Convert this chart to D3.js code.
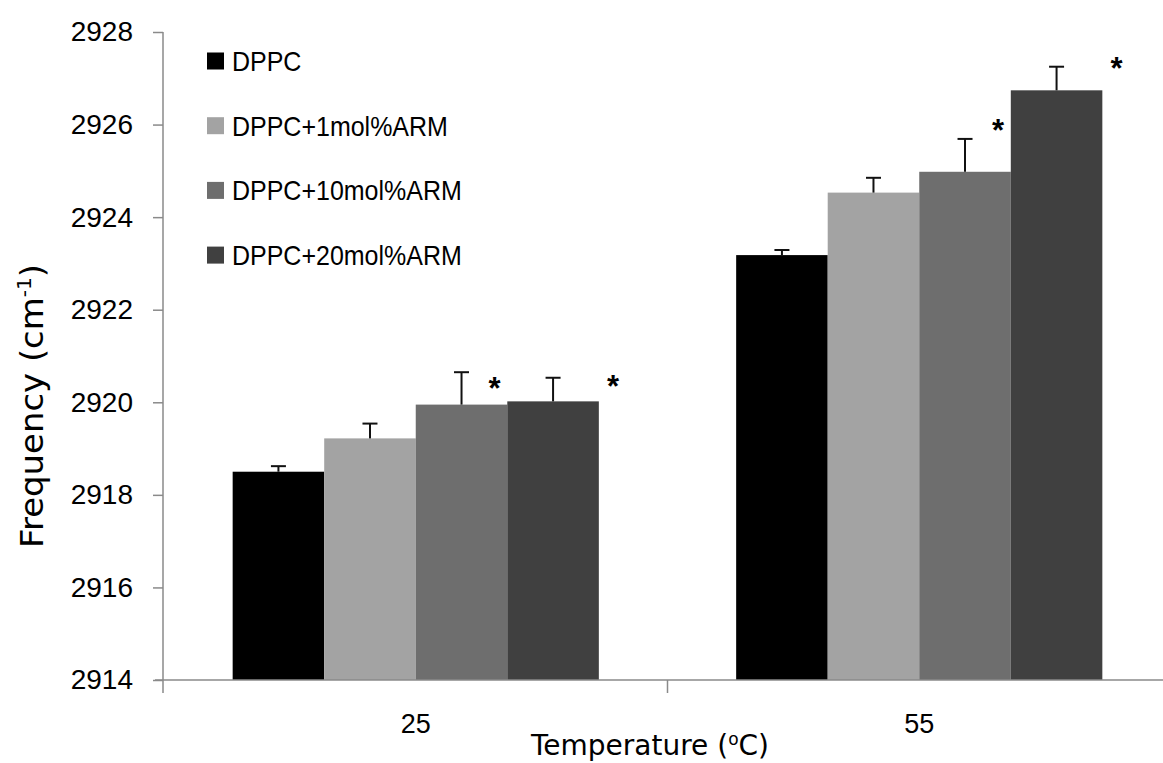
<!DOCTYPE html>
<html>
<head>
  <meta charset="utf-8">
  <title>Frequency vs Temperature</title>
  <script src="https://cdn.jsdelivr.net/npm/d3@7"></script>
  <style>
    body { margin: 0; background: #fff; }
    text { font-family: "Liberation Sans", Arial, sans-serif; fill: #000; }
  </style>
</head>
<body>
  <div id="chart"></div>

  <script>
    // data
    const temps = ["25", "55"]
    const series = ["DPPC", "DPPC+1mol%ARM", "DPPC+10mol%ARM", "DPPC+20mol%ARM"]
    const means25 = [2918.50, 2919.22, 2919.95, 2920.02]
    const means55 = [2923.18, 2924.53, 2924.98, 2926.74]
    const errs25 = [0.12, 0.32, 0.70, 0.51]
    const errs55 = [0.11, 0.32, 0.71, 0.51]
    // significance marks: [temperature, series index, height in cm-1]
    const stars = [["25", 2, 2920.44], ["25", 3, 2920.48], ["55", 2, 2926.01], ["55", 3, 2927.35]]
    const yTicks = [2914, 2916, 2918, 2920, 2922, 2924, 2926, 2928]

    const colors = ["#000000", "#a3a3a3", "#6e6e6e", "#404040"]
    const axisColor = "#8a8a8a"

    const width = 1163
    const height = 763

    const svg = d3.select("#chart")
      .append("svg")
      .attr("width", width)
      .attr("height", height)

    const y = d3.scaleLinear().domain([2914, 2928]).range([680, 32])

    const x0 = d3.scaleBand().domain(temps).range([164, 1171])
    const x1 = d3.scaleBand().domain(d3.range(series.length))
      .range([0, x0.bandwidth()])
      .paddingOuter(0.75)

    const rows = []
    temps.forEach((t, ti) => {
      const m = ti == 0 ? means25 : means55
      const e = ti == 0 ? errs25 : errs55
      series.forEach((s, i) => {
        rows.push({ temp: t, i: i, mean: m[i], err: e[i] })
      })
    })

    // bars
    svg.append("g")
      .selectAll("rect")
      .data(rows)
      .enter()
      .append("rect")
      .attr("x", d => x0(d.temp) + x1(d.i))
      .attr("y", d => y(d.mean))
      .attr("width", x1.bandwidth())
      .attr("height", d => y(2914) - y(d.mean))
      .attr("fill", d => colors[d.i])

    // upper error bars
    const eb = svg.append("g")
      .attr("stroke", "#111")
      .attr("stroke-width", 2)
      .selectAll("g")
      .data(rows)
      .enter()
      .append("g")
      .attr("transform", d => `translate(${x0(d.temp) + x1(d.i) + x1.bandwidth() / 2},0)`)
    eb.append("line")
      .attr("y1", d => y(d.mean))
      .attr("y2", d => y(d.mean + d.err))
    eb.append("line")
      .attr("x1", -7.5).attr("x2", 7.5)
      .attr("y1", d => y(d.mean + d.err))
      .attr("y2", d => y(d.mean + d.err))

    // asterisks
    const starDx = [0, 0, 33, 60]
    svg.append("g")
      .selectAll("text")
      .data(stars)
      .enter()
      .append("text")
      .attr("x", d => x0(d[0]) + x1(d[1]) + x1.bandwidth() / 2 + starDx[d[1]])
      .attr("y", d => y(d[2]) + 17)
      .attr("text-anchor", "middle")
      .style("font-size", "31px")
      .style("font-weight", "bold")
      .text("*")

    // y axis
    const yAxis = svg.append("g")
      .attr("transform", "translate(163,0)")
      .call(d3.axisLeft(y).tickValues(yTicks).tickFormat(d3.format("d")).tickSize(10).tickPadding(20))
    yAxis.select(".domain").remove()
    yAxis.selectAll(".tick line").attr("stroke", axisColor).attr("stroke-width", 1.5)
    yAxis.selectAll(".tick text")
      .style("font-size", "28px")
      .style("font-family", "'Liberation Sans', Arial, sans-serif")
      .attr("fill", "#111")
    yAxis.append("line")
      .attr("y1", y(2928)).attr("y2", 693)
      .attr("stroke", axisColor).attr("stroke-width", 1.5)

    // x axis
    svg.append("line")
      .attr("x1", 155).attr("x2", width)
      .attr("y1", y(2914)).attr("y2", y(2914))
      .attr("stroke", axisColor).attr("stroke-width", 1.5)
    svg.append("g")
      .selectAll("line")
      .data(temps.slice(1))
      .enter()
      .append("line")
      .attr("x1", d => x0(d)).attr("x2", d => x0(d))
      .attr("y1", y(2914)).attr("y2", 693)
      .attr("stroke", axisColor).attr("stroke-width", 1.5)
    svg.append("g")
      .selectAll("text")
      .data(temps)
      .enter()
      .append("text")
      .attr("x", d => x0(d) + x0.bandwidth() / 2)
      .attr("y", 733)
      .attr("text-anchor", "middle")
      .style("font-size", "27px")
      .attr("fill", "#111")
      .text(d => d)

    // axis titles
    const xt = svg.append("text")
      .attr("x", 650)
      .attr("y", 755)
      .attr("text-anchor", "middle")
      .style("font-family", "'DejaVu Sans', Verdana, sans-serif")
      .style("font-size", "28px")
      .attr("fill", "#111")
    xt.append("tspan").text("Temperature (")
    xt.append("tspan").attr("dy", -10).style("font-size", "17px").text("o")
    xt.append("tspan").attr("dy", 10).text("C)")

    const yt = svg.append("text")
      .attr("transform", "translate(43,406) rotate(-90) scale(1.06,1)")
      .attr("text-anchor", "middle")
      .style("font-family", "'DejaVu Sans', Verdana, sans-serif")
      .style("font-size", "32px")
      .attr("fill", "#111")
    yt.append("tspan").text("Frequency (cm")
    yt.append("tspan").attr("dy", -12).style("font-size", "19px").text("-1")
    yt.append("tspan").attr("dy", 12).text(")")

    // legend
    const legend = svg.append("g")
      .selectAll("g")
      .data(series)
      .enter()
      .append("g")
      .attr("transform", (d, i) => `translate(207,${61 + i * 64.7})`)
    legend.append("rect")
      .attr("y", -8.5)
      .attr("width", 17)
      .attr("height", 17)
      .attr("fill", (d, i) => colors[i])
    legend.append("text")
      .attr("x", 25)
      .attr("dy", "0.36em")
      .attr("transform", "scale(1,1.1)")
      .style("font-size", "25px")
      .attr("fill", "#111")
      .text(d => d)
  </script>
</body>
</html>
